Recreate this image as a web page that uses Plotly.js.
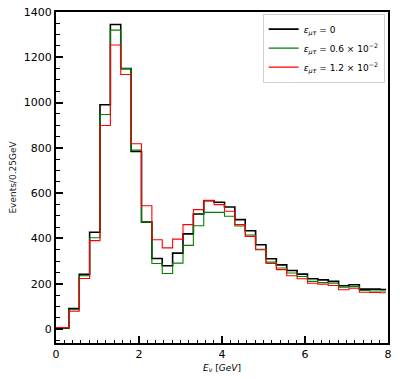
<!DOCTYPE html>
<html>
<head>
<meta charset="utf-8">
<script src="https://cdn.plot.ly/plotly-3.0.1.min.js"></script>
<style>
  html, body { margin: 0; padding: 0; background: #fff; }
  #plot { width: 400px; height: 379px; }
</style>
</head>
<body>
<div id="plot"></div>
<script>
// step edges (GeV): left edge of every step plus the end of the last one
var edges = [0, 0.31, 0.56, 0.81, 1.06, 1.31, 1.56, 1.81, 2.06, 2.31, 2.56, 2.81,
             3.06, 3.31, 3.56, 3.81, 4.06, 4.31, 4.56, 4.81, 5.06, 5.31, 5.56, 5.81,
             6.06, 6.31, 6.56, 6.81, 7.06, 7.31, 7.56, 7.81, 7.95];

// events per 0.25 GeV
var eps0 = [3, 90, 241, 427, 990, 1345, 1150, 784, 472, 311, 279, 335,
            420, 508, 566, 560, 539, 483, 434, 372, 310, 283, 258, 242,
            222, 217, 210, 191, 195, 176, 176, 174];
var eps06 = [4, 85, 235, 403, 947, 1320, 1150, 790, 472, 289, 245, 291,
             369, 456, 515, 515, 498, 455, 415, 352, 295, 269, 247, 232,
             210, 205, 202, 185, 187, 170, 168, 168];
var eps12 = [6, 78, 223, 390, 899, 1254, 1124, 818, 544, 394, 358, 397,
             461, 527, 568, 549, 520, 461, 409, 350, 289, 262, 235, 222,
             202, 198, 192, 173, 180, 162, 161, 160];

var names = [
  "<i>ε</i><sub><i>μτ</i></sub> = 0",
  "<i>ε</i><sub><i>μτ</i></sub> = 0.6 × 10<sup>−2</sup>",
  "<i>ε</i><sub><i>μτ</i></sub> = 1.2 × 10<sup>−2</sup>"
];
var colors = ["#000000", "#008000", "#ff0000"];

function stepTrace(vals, i) {
  // repeat last value so the final step reaches the last edge
  return {
    x: edges,
    y: vals.concat([vals[vals.length - 1]]),
    name: names[i],
    type: "scatter",
    mode: "lines",
    line: {shape: "hv", color: colors[i], width: i == 0 ? 1.6 : 1.1}
  };
}

var data = [stepTrace(eps0, 0), stepTrace(eps06, 1), stepTrace(eps12, 2)];

var layout = {
  width: 400,
  height: 379,
  margin: {l: 56, r: 12, t: 12, b: 36},
  paper_bgcolor: "#fff",
  plot_bgcolor: "#fff",
  font: {family: "DejaVu Sans", size: 11, color: "#000"},
  showlegend: true,
  legend: {
    x: 0.99, xanchor: "right", y: 0.995, yanchor: "top",
    bgcolor: "rgba(255,255,255,0.9)",
    bordercolor: "#d0d0d0", borderwidth: 1,
    font: {family: "DejaVu Sans", size: 9},
    itemwidth: 30,
    tracegroupgap: 0
  },
  xaxis: {
    range: [0, 8],
    tickvals: [0, 2, 4, 6, 8],
    ticks: "inside", ticklen: 7, tickwidth: 1.5, tickcolor: "#000",
    minor: {dtick: 0.2, ticks: "inside", ticklen: 3.5, tickwidth: 1, tickcolor: "#000", showgrid: false},
    showline: true, linewidth: 2, linecolor: "#000", mirror: true,
    showgrid: false, zeroline: false,
    tickfont: {size: 11},
    title: {text: "<i>E<sub>ν</sub></i> [<i>GeV</i>]", font: {size: 9}, standoff: 4}
  },
  yaxis: {
    range: [-62, 1400],
    tickvals: [0, 200, 400, 600, 800, 1000, 1200, 1400],
    ticks: "inside", ticklen: 7, tickwidth: 1.5, tickcolor: "#000",
    minor: {dtick: 50, ticks: "inside", ticklen: 3.5, tickwidth: 1, tickcolor: "#000", showgrid: false},
    showline: true, linewidth: 2, linecolor: "#000", mirror: true,
    showgrid: false, zeroline: false,
    tickfont: {size: 11},
    title: {text: "Events/0.25GeV", font: {size: 9, color: "#222"}, standoff: 6}
  }
};

Plotly.newPlot("plot", data, layout, {displayModeBar: false});
</script>
</body>
</html>
